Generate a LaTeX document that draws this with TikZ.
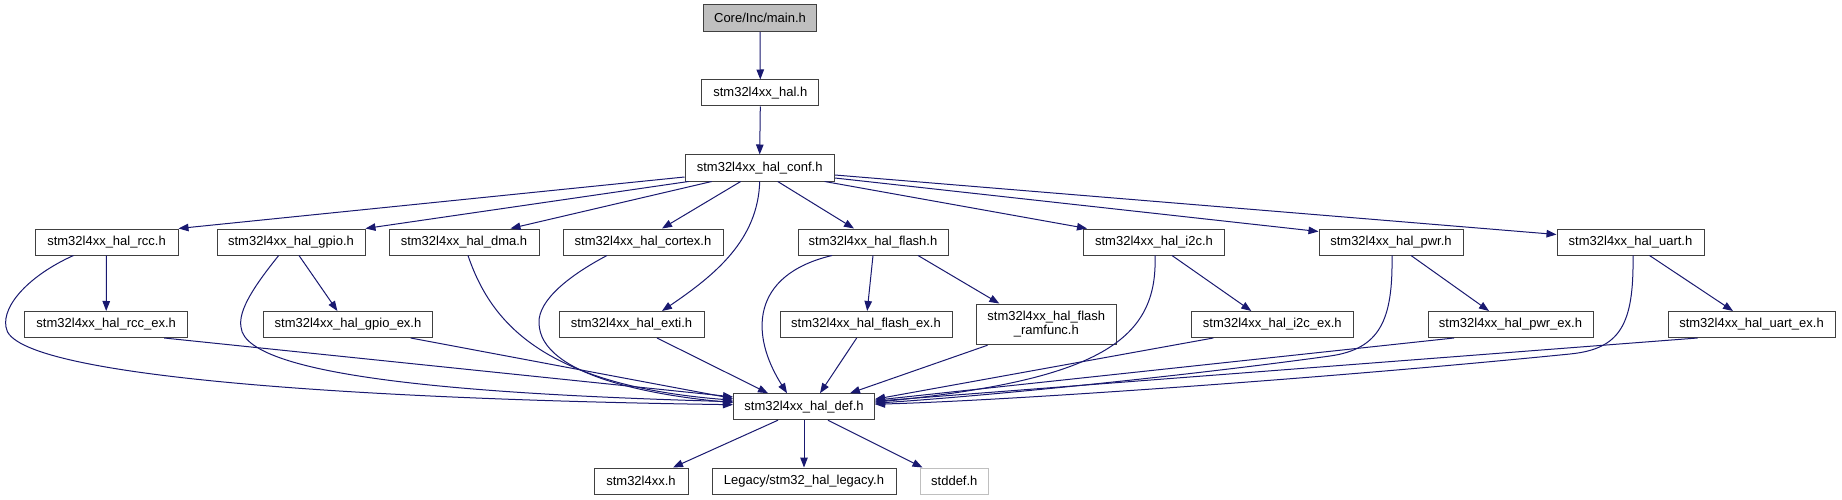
\documentclass[tikz,border=0pt]{standalone}
\usepackage{fontspec}
\setmainfont{Liberation Sans}
\usetikzlibrary{arrows.meta}
\definecolor{edgec}{HTML}{191970}
\definecolor{bordc}{HTML}{404040}
\definecolor{greyfill}{HTML}{BFBFBF}
\begin{document}
\begin{tikzpicture}[x=1pt,y=-1pt,
 box/.style={draw=bordc, line width=1pt, fill=white, minimum height=26pt, inner sep=0pt, font=\fontsize{13}{14}\selectfont, text=black, align=center},
 edge/.style={draw=edgec, line width=1pt, -{Triangle[length=10pt,width=7.5pt]}}]
\useasboundingbox[fill=white] (0,0) rectangle (1842,500);
\node[box, fill=greyfill, minimum width=113pt, minimum height=26.7pt] (main) at (760,18.3) {Core/Inc/main.h};
\node[box, minimum width=117pt] (hal) at (760.3,93) {stm32l4xx\_hal.h};
\node[box, minimum width=149.4pt] (conf) at (759.7,168) {stm32l4xx\_hal\_conf.h};
\node[box, minimum width=143pt] (rcc) at (106.5,242) {stm32l4xx\_hal\_rcc.h};
\node[box, minimum width=148pt] (gpio) at (291,242) {stm32l4xx\_hal\_gpio.h};
\node[box, minimum width=150pt] (dma) at (464,242) {stm32l4xx\_hal\_dma.h};
\node[box, minimum width=160pt] (cortex) at (643,242) {stm32l4xx\_hal\_cortex.h};
\node[box, minimum width=150pt] (flash) at (873,242) {stm32l4xx\_hal\_flash.h};
\node[box, minimum width=141pt] (i2c) at (1154,242) {stm32l4xx\_hal\_i2c.h};
\node[box, minimum width=144pt] (pwr) at (1391,242) {stm32l4xx\_hal\_pwr.h};
\node[box, minimum width=147pt] (uart) at (1630.5,242) {stm32l4xx\_hal\_uart.h};
\node[box, minimum width=163pt] (rccex) at (106.2,324.5) {stm32l4xx\_hal\_rcc\_ex.h};
\node[box, minimum width=169pt] (gpioex) at (348,324.5) {stm32l4xx\_hal\_gpio\_ex.h};
\node[box, minimum width=145pt] (exti) at (631.5,324.5) {stm32l4xx\_hal\_exti.h};
\node[box, minimum width=172pt] (flashex) at (866,324.5) {stm32l4xx\_hal\_flash\_ex.h};
\node[box, minimum width=140.6pt, minimum height=40.7pt] (ramfunc) at (1046.3,324.4) {stm32l4xx\_hal\_flash\\\_ramfunc.h};
\node[box, minimum width=162.6pt] (i2cex) at (1272.3,324.5) {stm32l4xx\_hal\_i2c\_ex.h};
\node[box, minimum width=165pt] (pwrex) at (1510.5,324.5) {stm32l4xx\_hal\_pwr\_ex.h};
\node[box, minimum width=167pt] (uartex) at (1751.5,324.5) {stm32l4xx\_hal\_uart\_ex.h};
\node[box, minimum width=141pt] (def) at (804,406.7) {stm32l4xx\_hal\_def.h};
\node[box, minimum width=94pt] (stm) at (641,481) {stm32l4xx.h};
\node[box, minimum width=184pt] (legacy) at (804,481) {Legacy/stm32\_hal\_legacy.h};
\node[box, draw=greyfill, minimum width=68.6pt] (stddef) at (954.3,481) {stddef.h};
% top chain
\draw[edge] (main.south) -- (hal.north);
\draw[edge] (hal.south) -- (conf.north);
% conf to row 2
\draw[edge] ([yshift=-9pt]conf.west) -- (rcc.north east);
\draw[edge] ([xshift=4pt]conf.south west) -- (gpio.north east);
\draw[edge] ([xshift=-48pt]conf.south) -- ([xshift=46.5pt]dma.north);
\draw[edge] ([xshift=-19pt]conf.south) -- ([xshift=19pt]cortex.north);
\draw[edge] (conf.south) .. controls (758,240) and (715,275) .. ([xshift=30.5pt]exti.north);
\draw[edge] ([xshift=18pt]conf.south) -- ([xshift=-19pt]flash.north);
\draw[edge] ([xshift=65pt]conf.south) -- ([xshift=-67pt]i2c.north);
\draw[edge] ([yshift=-10pt]conf.east) -- ([yshift=-3pt]pwr.north west);
\draw[edge] ([yshift=-7pt]conf.east) -- ([yshift=-6pt]uart.north west);
% row 2 to row 3
\draw[edge] (rcc.south) -- (rccex.north);
\draw[edge] ([xshift=8pt]gpio.south) -- ([xshift=-10.6pt]gpioex.north);
\draw[edge] (flash.south) -- ([xshift=1.2pt]flashex.north);
\draw[edge] ([xshift=45pt]flash.south) -- ([xshift=-47pt]ramfunc.north);
\draw[edge] ([xshift=18pt]i2c.south) -- ([xshift=-21pt]i2cex.north);
\draw[edge] ([xshift=20pt]pwr.south) -- ([xshift=-21.5pt]pwrex.north);
\draw[edge] ([xshift=19pt]uart.south) -- ([xshift=-18.5pt]uartex.north);
% into def
\draw[edge] ([xshift=-33pt]rcc.south) .. controls (30,275) and (2,305) .. (6,327) .. controls (10,380) and (400,400) .. ([yshift=2pt]def.west);
\draw[edge] ([xshift=58pt]rccex.south) -- ([yshift=9.8pt]def.west);
\draw[edge] ([xshift=-12.3pt]gpio.south) .. controls (255,285) and (238,310) .. (241,327) .. controls (245,380) and (500,395) .. ([yshift=5pt]def.west);
\draw[edge] ([xshift=62.7pt]gpioex.south) -- ([yshift=8.2pt]def.west);
\draw[edge] ([xshift=4pt]dma.south) .. controls (490,320) and (540,385) .. ([yshift=6.5pt]def.west);
\draw[edge] ([xshift=-36pt]cortex.south) .. controls (570,275) and (538,300) .. (539,323) .. controls (540,375) and (650,395) .. ([yshift=4pt]def.west);
\draw[edge] ([xshift=25.5pt]exti.south) -- ([xshift=-36pt]def.north);
\draw[edge] ([xshift=-41pt]flash.south) .. controls (750,275) and (750,335) .. ([xshift=-17pt]def.north);
\draw[edge] ([xshift=-9.3pt]flashex.south) -- ([xshift=16pt]def.north);
\draw[edge] ([xshift=-58.8pt]ramfunc.south) -- ([xshift=46pt]def.north);
\draw[edge] ([xshift=1pt]i2c.south) .. controls (1158,340) and (1100,380) .. ([yshift=4.5pt]def.east);
\draw[edge] ([xshift=-59pt]i2cex.south) -- ([yshift=7.5pt]def.east);
\draw[edge] ([xshift=1pt]pwr.south) .. controls (1393,320) and (1380,349) .. (1330,356) .. controls (1200,374) and (1000,395) .. ([yshift=3.5pt]def.east);
\draw[edge] ([xshift=-56.5pt]pwrex.south) -- ([yshift=6.5pt]def.east);
\draw[edge] ([xshift=2.5pt]uart.south) .. controls (1634,325) and (1620,349) .. (1570,354) .. controls (1320,379) and (1000,401) .. ([yshift=2.5pt]def.east);
\draw[edge] ([xshift=-54pt]uartex.south) -- ([yshift=5.5pt]def.east);
% def to bottom row
\draw[edge] ([xshift=-26pt]def.south) -- ([xshift=32pt]stm.north);
\draw[edge] (def.south) -- (legacy.north);
\draw[edge] ([xshift=24pt]def.south) -- ([xshift=3pt]stddef.north west);
\end{tikzpicture}
\end{document}
